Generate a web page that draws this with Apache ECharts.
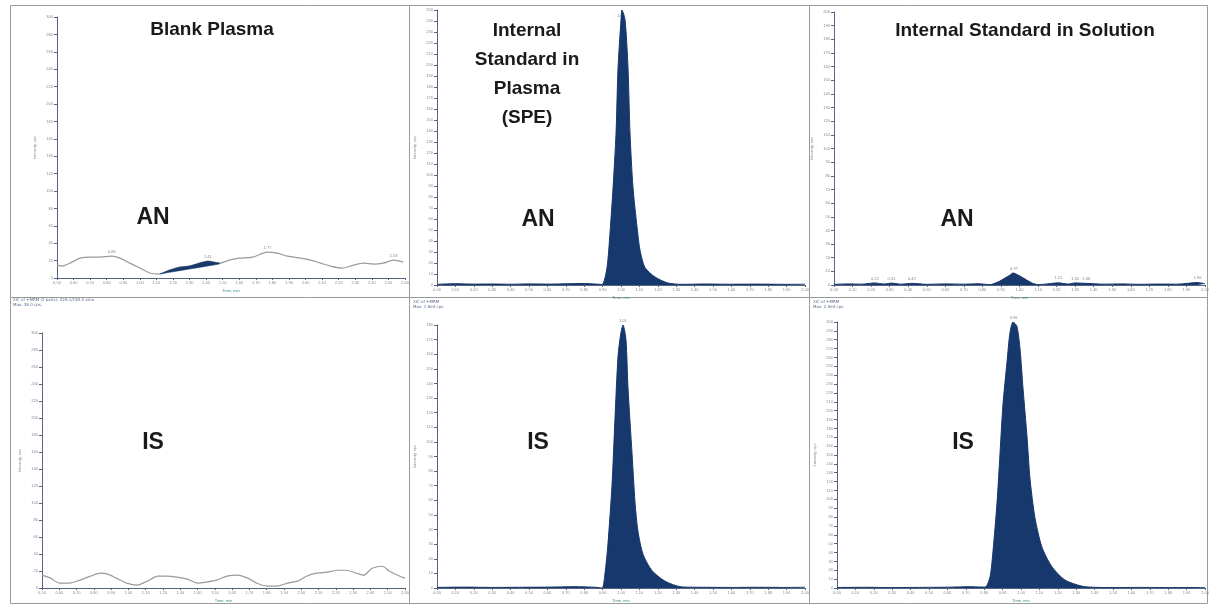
<!DOCTYPE html>
<html>
<head>
<meta charset="utf-8">
<script src="https://cdn.jsdelivr.net/npm/echarts@6/dist/echarts.min.js"></script>
<style>
html, body { margin: 0; padding: 0; background: #fff; }
#chart { width: 1212px; height: 604px; }
</style>
</head>
<body>
<div id="chart"></div>
<script>
// blank plasma, analyte channel
var blankAnTime = [0.50,0.53,0.59,0.64,0.70,0.76,0.83,0.88,0.94,1.00,1.06,1.12,1.18,1.24,1.30,1.36,1.41,1.48,1.54,1.60,1.68,1.77,1.83,1.89,1.97,2.03,2.09,2.15,2.22,2.29,2.35,2.41,2.47,2.53,2.59];
var blankAnSignal = [14.8,13.7,18.3,22.8,24.0,24.0,25.1,22.8,17.1,11.4,5.7,4.6,9.1,12.5,13.7,17.1,19.4,17.1,20.5,22.8,24.0,29.7,28.5,25.1,22.8,20.5,17.1,13.7,11.4,14.8,17.1,16.0,17.1,20.5,18.3];
// integrated noise area in blank AN (top follows the trace, base is the drawn baseline)
var blankAreaTime = [1.12,1.18,1.24,1.30,1.36,1.41,1.48];
var blankAreaBase = [4.6,6.5,8.4,10.3,12.2,13.8,16.0];
var blankAreaTop = [4.6,9.1,12.5,13.7,17.1,19.4,17.1];
var blankAnPeaks = [0.83,1.41,1.77,2.53];

// blank plasma, IS channel
var blankIsTime = [0.50,0.55,0.60,0.66,0.72,0.78,0.84,0.88,0.93,0.99,1.05,1.11,1.17,1.22,1.28,1.34,1.40,1.45,1.51,1.57,1.63,1.69,1.74,1.80,1.86,1.92,1.98,2.03,2.09,2.15,2.21,2.26,2.32,2.36,2.41,2.47,2.51,2.57,2.60];
var blankIsSignal = [15.1,11.6,5.8,5.8,9.3,13.9,17.4,16.3,11.6,5.8,3.5,8.1,13.9,13.9,12.8,10.5,5.8,7.0,9.3,13.9,15.1,11.6,5.8,2.3,2.3,5.8,8.1,13.9,17.4,18.6,20.9,20.9,17.4,15.1,23.2,25.6,19.7,13.9,11.6];

// internal standard in plasma (SPE)
var speAnTime = [0.00,0.10,0.20,0.30,0.40,0.50,0.60,0.70,0.80,0.86,0.897,0.924,0.940,0.957,0.973,0.984,1.000,1.005,1.022,1.038,1.049,1.065,1.087,1.103,1.130,1.185,1.255,1.332,1.45,1.60,1.75,1.90,2.00];
var speAnSignal = [0.6,1.2,0.8,0.9,0.7,1.0,0.8,1.1,1.4,0.9,0.5,16,47,89,138,198,241,250,241,198,138,89,53,32,16,7.3,1.8,0.6,0.9,0.7,0.8,0.6,0.7];
var speIsTime = [0.00,0.15,0.30,0.45,0.60,0.75,0.86,0.897,0.913,0.929,0.951,0.967,0.984,1.000,1.011,1.027,1.038,1.060,1.076,1.092,1.120,1.168,1.239,1.332,1.45,1.60,1.75,1.90,2.00];
var speIsSignal = [0.4,0.6,0.4,0.5,0.6,0.9,0.5,0,10,30,70,115,159,175,180,170,137,92,59,39,23,12,4.7,0.7,0.5,0.4,0.5,0.4,0.5];

// internal standard in solution
var solAnTime = [0.00,0.08,0.15,0.22,0.27,0.31,0.36,0.42,0.50,0.60,0.70,0.78,0.841,0.884,0.922,0.949,0.965,0.992,1.030,1.067,1.100,1.15,1.21,1.26,1.30,1.36,1.45,1.55,1.65,1.75,1.85,1.96,2.00];
var solAnSignal = [0.5,0.8,0.6,1.5,0.7,1.4,0.6,1.2,0.5,0.8,0.6,0.9,0.3,2.2,5.1,7.3,8.8,7.3,4.4,1.5,0.3,0.8,1.6,0.7,1.5,1.2,0.6,0.8,0.5,0.7,0.6,1.8,0.9];
var solAnPeaks = [0.22,0.31,0.42,0.97,1.21,1.30,1.36,1.96];
var solIsTime = [0.00,0.15,0.30,0.45,0.60,0.72,0.804,0.832,0.848,0.870,0.886,0.902,0.924,0.940,0.957,0.978,0.995,1.011,1.033,1.049,1.076,1.114,1.168,1.239,1.332,1.402,1.50,1.65,1.80,2.00];
var solIsSignal = [0.6,0.8,0.5,0.7,0.9,1.5,1.0,13,42,97,152,207,255,288,300,295,269,225,170,123,79,46,24,9,2,0.8,0.5,0.7,0.5,0.6];

// panel axis ranges
var xMin = [0.5, 0, 0, 0.5, 0, 0];
var xMax = [2.6, 2, 2, 2.6, 2, 2];
var yMax = [300, 250, 200, 300, 180, 300];
var yStep = [20, 10, 10, 20, 10, 10];

var NAVY = '#17386c';
var AXIS = '#56627e';

function pairs(t, v) {
	var out = [];
	for (var i = 0; i < t.length; ++i) {
		out.push([t[i], v[i]]);
	}
	return out;
}

function lookup(t, v, x) {
	var best = 0;
	for (var i = 0; i < t.length; ++i) {
		if (Math.abs(t[i] - x) < Math.abs(t[best] - x)) best = i;
	}
	return [x, v[best]];
}

var grids = [
	{left: 57, top: 17, width: 348, height: 261},
	{left: 437, top: 10, width: 368, height: 275},
	{left: 834, top: 12, width: 371, height: 273},
	{left: 42, top: 333, width: 363, height: 262},
	{left: 437, top: 325, width: 368, height: 270},
	{left: 837, top: 322, width: 368, height: 273}
];

var xAxes = [], yAxes = [];
for (var g = 0; g < 6; ++g) {
	xAxes.push({
		type: 'value', gridIndex: g, min: xMin[g], max: xMax[g], interval: 0.1,
		name: 'Time, min', nameLocation: 'middle', nameGap: 11,
		nameTextStyle: {fontSize: 4, color: '#3f8a8a'},
		axisLine: {lineStyle: {color: AXIS, width: 1}},
		axisTick: {length: 2, lineStyle: {color: AXIS}},
		axisLabel: {fontSize: 4, color: '#8a8a8a', margin: 3, formatter: function(v) { return v.toFixed(2); }},
		splitLine: {show: false}
	});
	yAxes.push({
		type: 'value', gridIndex: g, min: 0, max: yMax[g], interval: yStep[g],
		name: 'Intensity, cps', nameLocation: 'middle', nameGap: 20,
		nameTextStyle: {fontSize: 4, color: '#8a8a8a'},
		axisLine: {show: true, lineStyle: {color: AXIS, width: 1}},
		axisTick: {show: true, length: 3, lineStyle: {color: AXIS}},
		axisLabel: {fontSize: 4, color: '#8a8a8a', margin: 4},
		splitLine: {show: false}
	});
}

function trace(idx, t, v, color, filled) {
	return {
		type: 'line', xAxisIndex: idx, yAxisIndex: idx,
		data: pairs(t, v), symbol: 'none', smooth: 0.25,
		lineStyle: {color: color, width: filled ? 1 : 1.2},
		areaStyle: filled ? {color: NAVY, opacity: 1} : null,
		silent: true, z: 3
	};
}

function peakLabels(idx, t, v, list) {
	var pts = [];
	for (var i = 0; i < list.length; ++i) pts.push(lookup(t, v, list[i]));
	return {
		type: 'scatter', xAxisIndex: idx, yAxisIndex: idx, data: pts,
		symbolSize: 1, itemStyle: {color: 'rgba(0,0,0,0)'}, silent: true,
		label: {show: true, position: 'top', distance: 2, fontSize: 4, color: '#666',
			formatter: function(p) { return p.value[0].toFixed(2); }}
	};
}

// filled band between drawn baseline and the trace
var blankArea = {
	type: 'custom', xAxisIndex: 0, yAxisIndex: 0, silent: true, z: 4,
	data: pairs(blankAreaTime, blankAreaTop),
	renderItem: function(params, api) {
		if (params.dataIndex !== 0) return;
		var pts = [];
		for (var i = 0; i < blankAreaTime.length; ++i) {
			pts.push(api.coord([blankAreaTime[i], blankAreaTop[i]]));
		}
		for (var j = blankAreaTime.length - 1; j >= 0; --j) {
			pts.push(api.coord([blankAreaTime[j], blankAreaBase[j]]));
		}
		return {type: 'polygon', shape: {points: pts}, style: {fill: NAVY, stroke: NAVY, lineWidth: 0.5}};
	}
};

var series = [
	trace(0, blankAnTime, blankAnSignal, '#9a9a9a', false),
	blankArea,
	peakLabels(0, blankAnTime, blankAnSignal, blankAnPeaks),
	trace(1, speAnTime, speAnSignal, NAVY, true),
	peakLabels(1, speAnTime, speAnSignal, [1.00]),
	trace(2, solAnTime, solAnSignal, NAVY, true),
	peakLabels(2, solAnTime, solAnSignal, solAnPeaks),
	trace(3, blankIsTime, blankIsSignal, '#9a9a9a', false),
	trace(4, speIsTime, speIsSignal, NAVY, true),
	peakLabels(4, speIsTime, speIsSignal, [1.01]),
	trace(5, solIsTime, solIsSignal, NAVY, true),
	peakLabels(5, solIsTime, solIsSignal, [0.96])
];

function label(text, x, y, size) {
	return {
		type: 'text', silent: true, z: 10,
		style: {text: text, x: x, y: y, fill: '#1a1a1a', align: 'center', verticalAlign: 'middle',
			font: 'bold ' + size + 'px "Liberation Sans", Arial, sans-serif', lineHeight: 29}
	};
}

function small(text, x, y) {
	return {
		type: 'text', silent: true,
		style: {text: text, x: x, y: y, fill: '#5a6a90', font: '4px "DejaVu Sans", sans-serif'}
	};
}

function frameLine(x1, y1, x2, y2) {
	return {type: 'line', silent: true, shape: {x1: x1, y1: y1, x2: x2, y2: y2}, style: {stroke: '#9a9a9a', lineWidth: 1}};
}

var graphics = [
	{type: 'rect', silent: true, shape: {x: 10.5, y: 5.5, width: 1197, height: 598}, style: {fill: null, stroke: '#9a9a9a', lineWidth: 1}},
	frameLine(409.5, 5, 409.5, 604),
	frameLine(809.5, 5, 809.5, 604),
	frameLine(10, 297.5, 1208, 297.5),
	label('Blank Plasma', 212, 30, 19),
	label('Internal\nStandard in\nPlasma\n(SPE)', 527, 74, 19),
	label('Internal Standard in Solution', 1025, 31, 19),
	label('AN', 153, 218, 23),
	label('AN', 538, 220, 23),
	label('AN', 957, 220, 23),
	label('IS', 153, 443, 23),
	label('IS', 538, 443, 23),
	label('IS', 963, 443, 23),
	small('XIC of +MRM (2 pairs): 226.1/184.0 amu', 13, 298),
	small('Max. 38.0 cps.', 13, 303),
	small('XIC of +MRM', 413, 300),
	small('Max. 1.8e4 cps.', 413, 305),
	small('XIC of +MRM', 813, 300),
	small('Max. 2.9e4 cps.', 813, 305)
];

var chart = echarts.init(document.getElementById('chart'));
var option = {
	backgroundColor: '#fff',
	animation: false,
	grid: grids,
	xAxis: xAxes,
	yAxis: yAxes,
	series: series,
	graphic: graphics
};
chart.setOption(option);
</script>
</body>
</html>
